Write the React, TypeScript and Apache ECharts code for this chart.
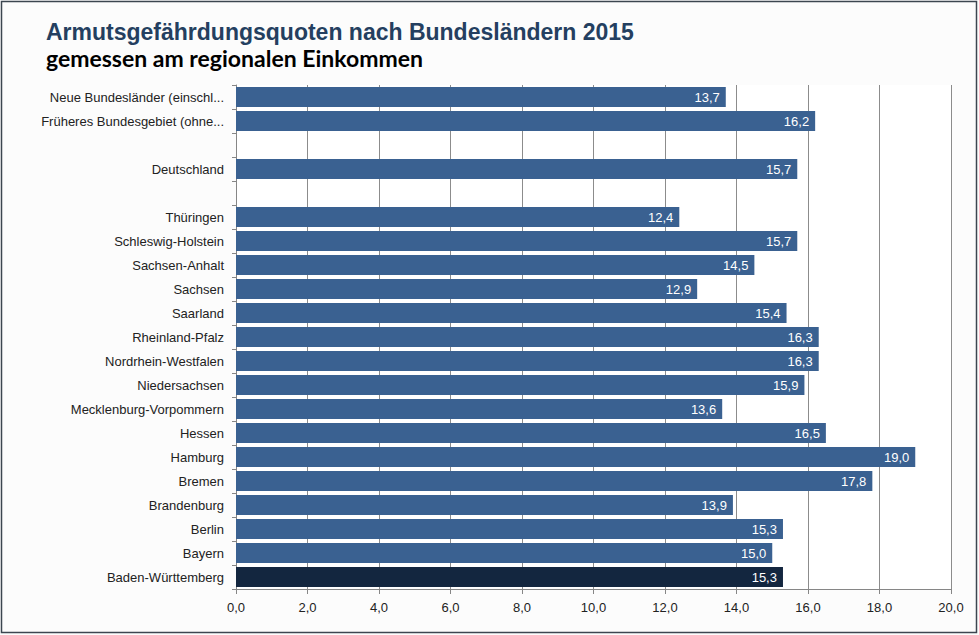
import React, { useEffect, useRef } from "react";
import * as echarts from "echarts";

const categories: string[] = [
  "Neue Bundesländer (einschl...",
  "Früheres Bundesgebiet (ohne...",
  "",
  "Deutschland",
  " ",
  "Thüringen",
  "Schleswig-Holstein",
  "Sachsen-Anhalt",
  "Sachsen",
  "Saarland",
  "Rheinland-Pfalz",
  "Nordrhein-Westfalen",
  "Niedersachsen",
  "Mecklenburg-Vorpommern",
  "Hessen",
  "Hamburg",
  "Bremen",
  "Brandenburg",
  "Berlin",
  "Bayern",
  "Baden-Württemberg",
];

const values: (number | null)[] = [
  13.7, 16.2, null, 15.7, null, 12.4, 15.7, 14.5, 12.9, 15.4, 16.3, 16.3, 15.9,
  13.6, 16.5, 19.0, 17.8, 13.9, 15.3, 15.0, 15.3,
];

const highlighted: string[] = ["Baden-Württemberg"];

const xTicks = { min: 0, max: 20, interval: 2 };

const fmt = (v: number) => v.toFixed(1).replace(".", ",");

const FONT = "'Liberation Sans', Arial, sans-serif";

export default function App() {
  const ref = useRef<HTMLDivElement>(null);
  useEffect(() => {
    if (!ref.current) return;
    const chart = echarts.init(ref.current, null, { renderer: "svg" });
    chart.setOption({
      animation: false,
      backgroundColor: "#fcfcfc",
      textStyle: { fontFamily: FONT },
      graphic: [
        {
          type: "rect",
          shape: { x: 1.5, y: 1.5, width: 975, height: 631 },
          style: { fill: "none", stroke: "#3c4650", lineWidth: 1.5 },
          z: 100,
        },
        {
          type: "text",
          left: 46,
          top: 20,
          style: {
            text: "Armutsgefährdungsquoten nach Bundesländern 2015",
            font: "bold 23px " + FONT,
            fill: "#243f60",
          },
        },
        {
          type: "text",
          left: 46,
          top: 46,
          style: {
            text: "gemessen am regionalen Einkommen",
            font: "bold 23px Lato, 'Open Sans', sans-serif",
            fill: "#000000",
          },
        },
      ],
      grid: {
        left: 236,
        right: 28,
        top: 85,
        bottom: 46,
        show: true,
        backgroundColor: "#ffffff",
        borderWidth: 0,
      },
      xAxis: {
        type: "value",
        min: xTicks.min,
        max: xTicks.max,
        interval: xTicks.interval,
        axisLine: { show: true, lineStyle: { color: "#868686", width: 1 } },
        axisTick: { show: true, length: 5, lineStyle: { color: "#868686" } },
        axisLabel: {
          formatter: (v: number) => fmt(v),
          color: "#222222",
          fontSize: 13,
          fontFamily: FONT,
          margin: 12,
        },
        splitLine: { show: true, lineStyle: { color: "#8c8c8c", width: 1 } },
      },
      yAxis: {
        type: "category",
        data: categories,
        inverse: true,
        axisLine: { show: true, lineStyle: { color: "#868686", width: 1 } },
        axisTick: { show: true, length: 4, lineStyle: { color: "#868686" } },
        axisLabel: { color: "#222222", fontSize: 13, fontFamily: FONT, margin: 12 },
        splitLine: { show: false },
      },
      series: [
        {
          type: "bar",
          data: values.map((v, i) => ({
            value: v,
            itemStyle: {
              color: highlighted.includes(categories[i]) ? "#13263f" : "#3a6191",
            },
          })),
          barCategoryGap: "17%",
          label: {
            show: true,
            position: "insideRight",
            distance: 6,
            color: "#ffffff",
            fontSize: 13,
            fontFamily: FONT,
            formatter: (p: any) => (p.value == null ? "" : fmt(p.value)),
          },
        },
      ],
    });
    return () => chart.dispose();
  }, []);
  return (
    <div
      ref={ref}
      style={{ position: "fixed", left: 0, top: 0, width: 979, height: 635 }}
    />
  );
}
